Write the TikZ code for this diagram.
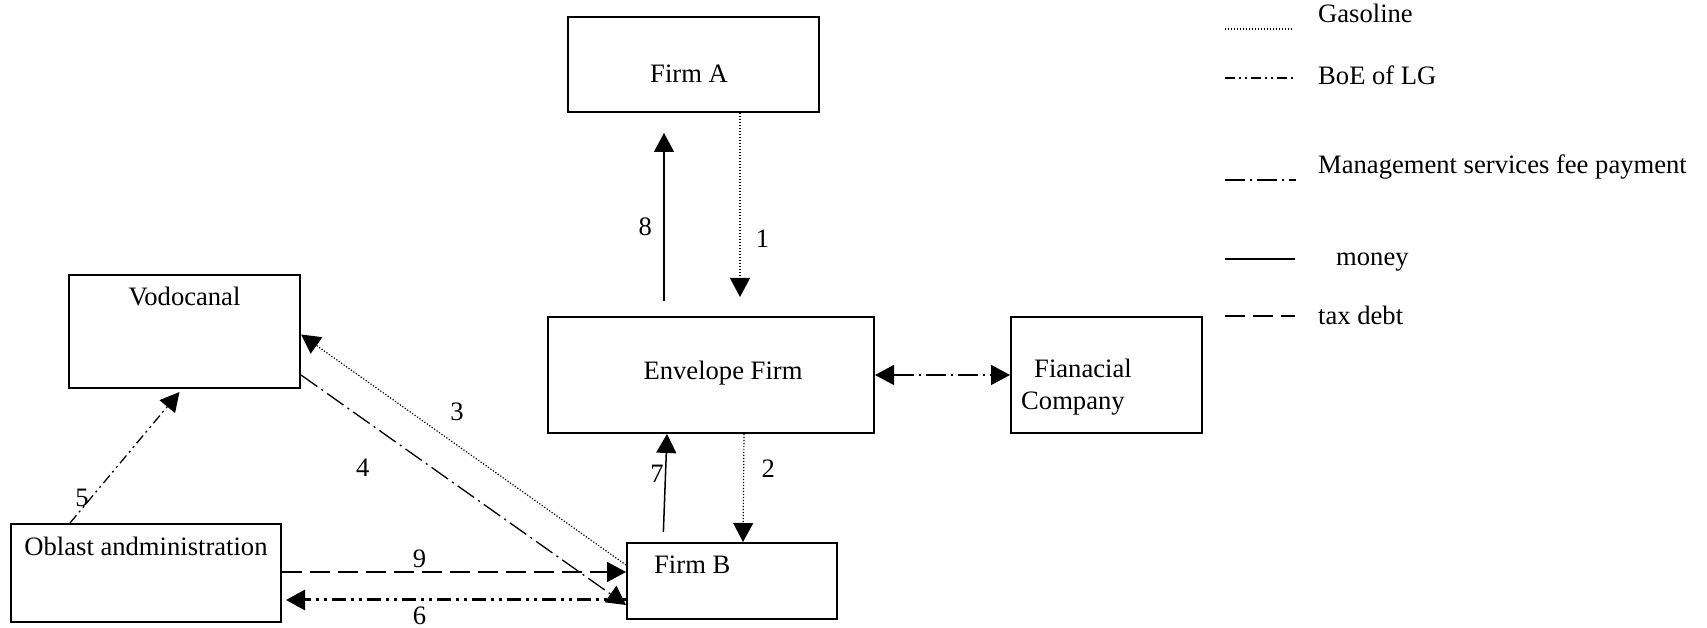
\documentclass[tikz,border=0pt]{standalone}
\usepackage{fontspec}
\setmainfont{Liberation Serif}
\usetikzlibrary{arrows.meta,positioning}

\begin{document}
\begin{tikzpicture}[->,>={Triangle[length=19pt,width=20pt]},x=1pt,y=1pt,
                    font=\fontsize{26.6}{32}\selectfont]
	\tikzstyle{box}=[draw,rectangle,line width=2pt,inner sep=0pt]
	\tikzstyle{txt}=[inner sep=0pt]
	\tikzstyle{gasoline}=[line width=1.2pt,dash pattern=on 1.2pt off 1.8pt]
	\tikzstyle{boe}=[line width=1.3pt,dash pattern=on 10pt off 4pt on 2pt off 4pt on 2pt off 4pt]
	\tikzstyle{fee}=[line width=1.3pt,dash pattern=on 20pt off 5pt on 2pt off 5pt]
	\tikzstyle{money}=[line width=1.5pt]
	\tikzstyle{taxdebt}=[line width=1.8pt,dash pattern=on 20pt off 8pt]

	\useasboundingbox (0,0) rectangle (1707,628);

	\node[box,minimum width=251pt,minimum height=95pt]  (fa)  at (693.5,563.5) {};
	\node[box,minimum width=326pt,minimum height=116pt] (env) at (711,253)     {};
	\node[box,minimum width=191pt,minimum height=116pt] (fin) at (1106.5,253)  {};
	\node[box,minimum width=231pt,minimum height=113pt] (vod) at (184.5,296.5) {};
	\node[box,minimum width=270pt,minimum height=98pt]  (obl) at (146,55)      {};
	\node[box,minimum width=210pt,minimum height=76pt]  (fb)  at (732,47)      {};

	\node[txt] (fat)  at ([xshift=-4.5pt,yshift=-9.5pt]fa.center) {Firm A};
	\node[txt] (envt) at ([xshift=12pt,yshift=2pt]env.center)     {Envelope Firm};
	\node[txt,align=left,below right=43pt and 11pt of fin.north west] (fint)
		{\hspace*{13pt}Fianacial\\Company};
	\node[txt,below=13pt of vod.north] (vodt) {Vodocanal};
	\node[txt,below=14pt of obl.north] (oblt) {Oblast andministration};
	\node[txt,below right=14pt and 28pt of fb.north west] (fbt) {Firm B};

	\path ([xshift=-47pt]env.north)  edge [money,shorten <=15pt,shorten >=20pt]
	                                      node[pos=.44,left=8pt] {8} ([xshift=-29.5pt]fa.south)
	      ([xshift=46.5pt]fa.south)   edge [gasoline,shorten >=19pt]
	                                      node[pos=.62,right=12pt] {1} ([xshift=29pt]env.north)
	      ([xshift=33pt]env.south)    edge [gasoline]
	                                      node[pos=.32,right=14pt] {2} ([xshift=11pt]fb.north)
	      ([xshift=-69pt]fb.north)    edge [money,shorten <=10pt]
	                                      node[pos=.63,left,inner sep=1pt] {7} ([xshift=-44pt]env.south)
	      (env.east)                  edge [fee,<->] (fin.west)

	      ([yshift=16pt]fb.west)      edge [gasoline]
	                                      node[pos=.52,above=20pt] {3} ([yshift=-3pt]vod.east)
	      ([yshift=-43.5pt]vod.east)  edge [fee]
	                                      node[pos=.19,below=36pt] {4} ([yshift=-24pt]fb.west)
	      ([xshift=-76pt]obl.north)   edge [boe,shorten >=4pt]
	                                      node[pos=.19,left,inner sep=2pt] {5} ([xshift=-2.5pt]vod.south)

	      ([yshift=1pt]obl.east)      edge [taxdebt]
	                                      node[pos=.4,above] {9} ([yshift=9pt]fb.west)
	      ([yshift=-19pt]fb.west)     edge [boe,line width=3pt,dash pattern=on 14pt off 5pt on 3pt off 5pt on 3pt off 5pt,shorten >=4pt]
	                                      node[pos=.6,below=2pt] {6} ([yshift=-27pt]obl.east)
	;

	% legend
	\node[txt,anchor=base west] (lgas) at (1318,605) {Gasoline};
	\node[txt,anchor=base west] (lboe) at (1318,543) {BoE of LG};
	\node[txt,anchor=base west] (lfee) at (1318,454) {Management services fee payment};
	\node[txt,anchor=base west] (lmon) at (1336,362) {money};
	\node[txt,anchor=base west] (ltax) at (1318,303) {tax debt};

	\draw[-,gasoline] (1225,599) -- (1293,599);
	\draw[-,boe]      (1225,550) -- (1293,550);
	\draw[-,fee]      (1225,448) -- (1296,448);
	\draw[-,money]    (1225,369) -- (1295,369);
	\draw[-,taxdebt]  (1225,312) -- (1295,312);
\end{tikzpicture}
\end{document}
